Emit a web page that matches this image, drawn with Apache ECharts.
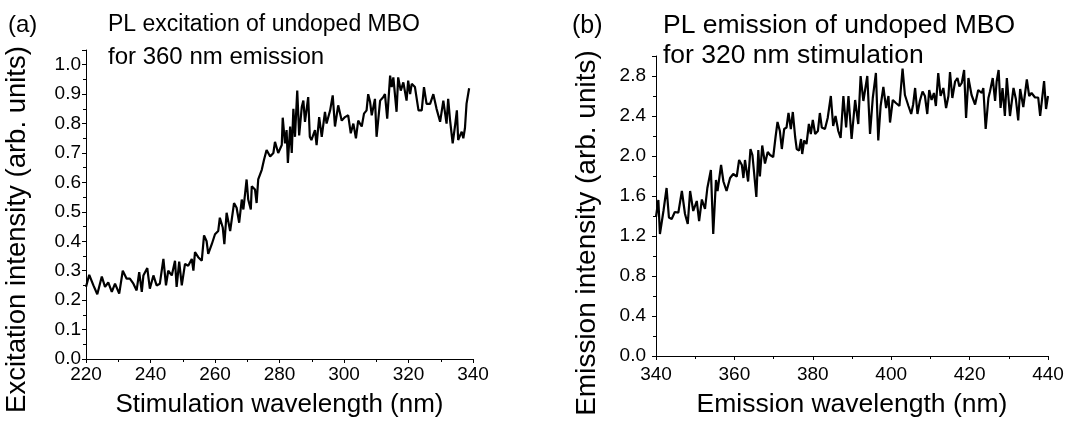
<!DOCTYPE html>
<html>
<head>
<meta charset="utf-8">
<script src="https://cdn.jsdelivr.net/npm/echarts@6/dist/echarts.min.js"></script>
<style>
html,body{margin:0;padding:0;background:#fff;}
#chart{width:1067px;height:423px;}
</style>
</head>
<body>
<div id="chart"></div>
<script>
// ---- Panel (a): PL excitation ----
const excWavelength = [220.0,221.0,222.3,223.5,224.9,225.9,226.9,228.0,229.0,230.3,231.4,232.6,233.6,234.7,235.7,236.5,237.3,237.8,239.0,239.8,240.9,241.9,242.9,244.0,244.8,245.5,246.6,247.6,248.1,248.9,249.7,250.7,251.7,252.8,253.3,253.8,254.8,255.9,256.6,257.4,257.9,259.0,260.0,261.0,261.5,262.4,262.9,263.6,264.7,265.9,266.7,267.5,268.3,268.8,269.8,270.3,271.1,271.4,272.4,272.9,273.4,274.5,275.2,276.0,277.1,278.1,278.6,279.6,280.7,281.0,281.7,282.2,282.6,283.3,283.8,284.3,284.8,285.5,286.1,286.9,287.4,287.9,288.4,288.9,289.4,289.9,291.0,291.5,292.3,293.1,294.1,294.6,295.7,296.5,297.2,298.2,299.3,300.3,301.3,302.1,302.9,303.7,304.4,305.5,306.2,307.0,307.5,308.1,308.6,309.6,310.1,311.2,312.2,312.7,313.4,314.3,314.8,315.3,316.3,316.8,317.6,318.4,319.4,319.9,320.5,321.0,322.0,323.1,324.1,324.8,325.6,326.7,327.7,328.7,329.8,330.8,331.8,332.3,332.9,333.7,334.4,335.0,335.4,336.0,336.5,337.0,337.5,338.0,338.8];
const excIntensity = [0.245,0.286,0.25,0.22,0.28,0.245,0.26,0.228,0.256,0.222,0.30,0.273,0.273,0.256,0.233,0.295,0.228,0.284,0.309,0.239,0.284,0.25,0.256,0.34,0.25,0.30,0.284,0.334,0.245,0.331,0.25,0.323,0.317,0.34,0.30,0.363,0.346,0.334,0.42,0.40,0.357,0.39,0.424,0.435,0.48,0.447,0.39,0.497,0.435,0.53,0.514,0.463,0.542,0.508,0.61,0.542,0.508,0.587,0.576,0.53,0.61,0.643,0.677,0.71,0.688,0.70,0.738,0.70,0.727,0.82,0.733,0.778,0.666,0.79,0.70,0.85,0.755,0.912,0.76,0.856,0.878,0.806,0.80,0.89,0.755,0.744,0.778,0.727,0.822,0.755,0.84,0.80,0.845,0.896,0.79,0.862,0.81,0.822,0.828,0.767,0.80,0.75,0.81,0.79,0.834,0.845,0.90,0.873,0.828,0.884,0.755,0.878,0.89,0.90,0.817,0.963,0.924,0.957,0.84,0.957,0.912,0.94,0.878,0.946,0.90,0.935,0.924,0.845,0.845,0.924,0.867,0.867,0.90,0.85,0.806,0.878,0.80,0.884,0.81,0.733,0.79,0.845,0.744,0.76,0.772,0.75,0.784,0.868,0.92];

// ---- Panel (b): PL emission ----
const emWavelength = [340.0,340.6,341.0,341.9,342.7,343.3,344.0,344.8,345.7,346.6,347.4,348.1,348.7,349.5,350.4,351.0,351.7,352.5,353.1,353.6,354.0,354.6,355.3,355.7,356.6,357.2,358.0,358.9,359.7,360.6,361.2,361.9,362.3,362.7,363.5,364.1,364.6,365.0,365.6,366.1,366.5,367.1,367.8,368.5,369.1,369.9,370.5,371.0,371.6,372.1,372.7,373.3,373.8,374.4,374.9,375.5,375.9,376.5,377.0,377.3,377.8,378.4,379.0,379.5,380.0,380.6,381.3,381.8,382.3,383.1,383.8,384.6,385.2,385.8,386.5,387.1,387.8,388.5,389.1,389.9,390.8,391.6,392.2,392.9,393.9,394.6,395.3,396.1,396.7,397.3,398.0,398.7,399.3,399.7,400.4,401.2,402.1,402.9,403.5,404.4,405.1,405.6,406.1,406.7,407.3,408.0,408.6,409.2,409.7,410.3,410.9,411.4,412.0,412.6,413.3,414.0,414.6,415.0,415.6,416.3,416.9,417.4,418.0,418.6,419.1,419.7,420.5,421.4,422.2,423.1,423.5,424.1,424.8,425.2,425.9,426.5,426.9,427.4,427.9,428.4,429.0,429.5,430.3,431.2,431.8,432.4,432.9,433.7,434.6,435.2,435.8,436.7,437.5,438.0,438.4,439.0,439.5,440.0];
const emIntensity = [1.39,1.56,1.22,1.45,1.68,1.385,1.37,1.44,1.434,1.65,1.42,1.32,1.65,1.45,1.55,1.35,1.565,1.47,1.68,1.66,1.86,1.22,1.76,1.65,1.91,1.745,1.65,1.78,1.82,1.795,1.96,1.91,1.78,1.96,1.745,2.07,2.01,2.02,1.59,2.06,1.795,2.105,1.925,2.04,2.01,1.99,2.19,2.34,2.25,2.07,2.27,2.285,2.43,2.27,2.44,2.19,2.07,2.055,2.17,2.02,2.155,2.12,2.32,2.22,2.36,2.22,2.25,2.43,2.285,2.27,2.38,2.60,2.30,2.40,2.25,2.18,2.60,2.285,2.60,2.17,2.56,2.32,2.80,2.55,2.80,2.22,2.58,2.83,2.155,2.50,2.69,2.48,2.60,2.335,2.56,2.53,2.50,2.875,2.61,2.50,2.42,2.515,2.68,2.42,2.55,2.645,2.60,2.42,2.66,2.56,2.63,2.50,2.83,2.60,2.68,2.48,2.60,2.84,2.58,2.745,2.78,2.695,2.73,2.86,2.38,2.78,2.61,2.515,2.66,2.63,2.68,2.27,2.58,2.645,2.78,2.55,2.745,2.86,2.48,2.68,2.40,2.78,2.40,2.68,2.57,2.355,2.67,2.49,2.765,2.60,2.63,2.585,2.585,2.40,2.39,2.75,2.47,2.60];

const FONT = 'Liberation Sans, Arial, Helvetica, sans-serif';
const BLACK = '#000';

function pairs(xs, ys) { return xs.map((x, i) => [x, ys[i]]); }

function xAxisCfg(gridIndex, min, max, name, fs, nameFs, nameGap, margin) {
  return {
    type: 'value', gridIndex, min, max, interval: 20, name,
    nameLocation: 'middle', nameGap,
    nameTextStyle: { fontFamily: FONT, fontSize: nameFs, color: BLACK },
    axisLine: { show: true, onZero: false, lineStyle: { color: BLACK, width: 1 } },
    axisTick: { show: true, length: 4, lineStyle: { color: BLACK, width: 1 } },
    minorTick: { show: true, splitNumber: 2, length: 3, lineStyle: { color: BLACK, width: 1 } },
    axisLabel: { fontFamily: FONT, fontSize: fs, color: BLACK, margin },
    splitLine: { show: false }, minorSplitLine: { show: false }
  };
}
function yAxisCfg(gridIndex, min, max, interval, name, fs, nameFs, nameGap, margin, shiftPad) {
  return {
    type: 'value', gridIndex, min, max, interval, name,
    nameLocation: 'middle', nameGap, nameRotate: 90,
    nameTextStyle: { fontFamily: FONT, fontSize: nameFs, color: BLACK, padding: [0, shiftPad, 0, 0] },
    axisLine: { show: true, onZero: false, lineStyle: { color: BLACK, width: 1 } },
    axisTick: { show: true, length: 4, lineStyle: { color: BLACK, width: 1 } },
    minorTick: { show: true, splitNumber: 2, length: 3, lineStyle: { color: BLACK, width: 1 } },
    axisLabel: { fontFamily: FONT, fontSize: fs, color: BLACK, margin, showMaxLabel: false,
      formatter: v => (Math.abs(v / interval - Math.round(v / interval)) < 1e-6 ? v.toFixed(1) : '') },
    splitLine: { show: false }, minorSplitLine: { show: false }
  };
}

const chart = echarts.init(document.getElementById('chart'), null, { renderer: 'canvas' });
chart.setOption({
  backgroundColor: '#fff',
  animation: false,
  grid: [
    { left: 86, top: 50, width: 387, height: 311, containLabel: false },
    { left: 656, top: 56, width: 392, height: 305, containLabel: false }
  ],
  xAxis: [
    xAxisCfg(0, 220, 340, 'Stimulation wavelength (nm)', 19, 26, 33, 6),
    xAxisCfg(1, 340, 440, 'Emission wavelength (nm)', 19, 26.5, 35, 9)
  ],
  yAxis: [
    yAxisCfg(0, 0, 1.05, 0.1, 'Excitation intensity (arb. units)', 19, 27.5, 55, 5, 50),
    yAxisCfg(1, 0, 3.0, 0.4, 'Emission intensity (arb. units)', 19, 28, 55, 10, 54)
  ],
  graphic: [
    { type: 'text', left: 8, top: 13, style: { text: '(a)', font: '24px ' + FONT, fill: BLACK } },
    { type: 'text', left: 108, top: 13, style: { text: 'PL excitation of undoped MBO', font: '23px ' + FONT, fill: BLACK } },
    { type: 'text', left: 108, top: 45, style: { text: 'for 360 nm emission', font: '24px ' + FONT, fill: BLACK } },
    { type: 'text', left: 572, top: 14, style: { text: '(b)', font: '25px ' + FONT, fill: BLACK } },
    { type: 'text', left: 663, top: 12, style: { text: 'PL emission of undoped MBO', font: '26.5px ' + FONT, fill: BLACK } },
    { type: 'text', left: 663, top: 42, style: { text: 'for 320 nm stimulation', font: '26.5px ' + FONT, fill: BLACK } }
  ],
  series: [
    { type: 'line', xAxisIndex: 0, yAxisIndex: 0, data: pairs(excWavelength, excIntensity),
      showSymbol: false, symbol: 'none', lineStyle: { color: BLACK, width: 2.2 }, clip: true },
    { type: 'line', xAxisIndex: 1, yAxisIndex: 1, data: pairs(emWavelength, emIntensity),
      showSymbol: false, symbol: 'none', lineStyle: { color: BLACK, width: 2.2 }, clip: true }
  ]
});
</script>
</body>
</html>
